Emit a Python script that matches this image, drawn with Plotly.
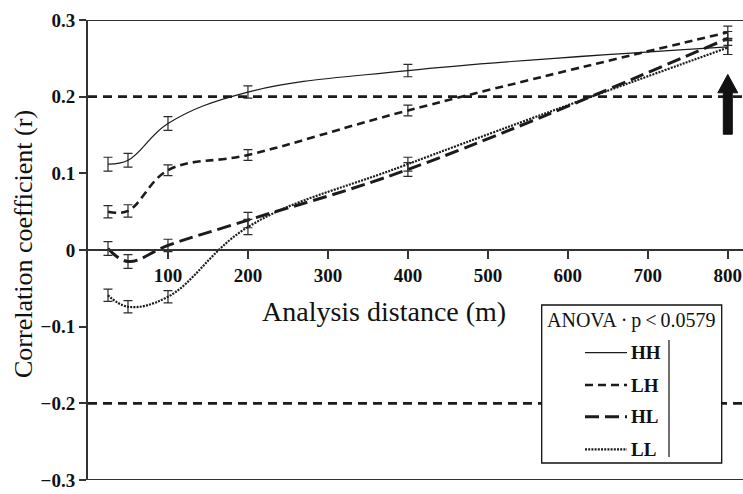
import plotly.graph_objects as go

# ---- data ----
distance = [25, 50, 100, 200, 400, 800]
HH = [0.112, 0.117, 0.165, 0.206, 0.234, 0.265]
LH = [0.050, 0.051, 0.104, 0.124, 0.182, 0.284]
HL = [0.002, -0.015, 0.006, 0.039, 0.105, 0.276]
LL = [-0.059, -0.074, -0.061, 0.030, 0.112, 0.264]
HH_err = [0.009, 0.009, 0.009, 0.008, 0.008, 0.010]
LH_err = [0.008, 0.008, 0.007, 0.007, 0.007, 0.008]
HL_err = [0.009, 0.009, 0.008, 0.010, 0.009, 0.009]
LL_err = [0.008, 0.008, 0.008, 0.010, 0.009, 0.009]
x_ticks = [100, 200, 300, 400, 500, 600, 700, 800]
y_ticks = [-0.3, -0.2, -0.1, 0, 0.1, 0.2, 0.3]
y_ticktext = ["\u22120.3", "\u22120.2", "\u22120.1", "0", "0.1", "0.2", "0.3"]
thresholds = [0.2, -0.2]
legend_title = "ANOVA\u2009\u00b7\u2009p\u2009<\u20090.0579"

W, H = 743, 494
L, R, T, B = 88, 0, 20, 14
XMAX = 819
FONT = "Liberation Serif, Times New Roman, serif"
INK = "#1b1b1b"

series = [
    ("HH", HH, HH_err, dict(width=1.2, dash="solid")),
    ("LH", LH, LH_err, dict(width=2.6, dash="8px,5px")),
    ("HL", HL, HL_err, dict(width=3.0, dash="14px,6px")),
    ("LL", LL, LL_err, dict(width=2.2, dash="2px,1.2px")),
]

fig = go.Figure()
for name, vals, err, ls in series:
    fig.add_trace(go.Scatter(
        x=distance, y=vals, name=name, mode="lines",
        line=dict(color=INK, shape="spline", smoothing=1.1, **ls),
        error_y=dict(type="data", array=err, visible=True, color="#2a2a2a",
                     thickness=1.2, width=4.5),
        showlegend=False,
    ))

def px(xp):
    return (xp - L) / (W - L - R)

def py(yp):
    return (H - B - yp) / (H - T - B)

shapes = []
# frame lines top / bottom
for yv in (0.3, -0.3):
    shapes.append(dict(type="line", xref="paper", yref="y", x0=0, x1=1, y0=yv, y1=yv,
                       line=dict(color="#333", width=2), layer="above"))
# threshold lines
for tv in thresholds:
    shapes.append(dict(type="line", xref="paper", yref="y", x0=0, x1=1, y0=tv, y1=tv,
                       line=dict(color=INK, width=2.6, dash="9px,6px"), layer="above"))
# arrow at last distance
ax = distance[-1]
sx = XMAX / (W - L - R)  # metres per pixel
tip = 0.229
head = 0.205
bottom = 0.151
path = (f"M {ax-4.5*sx} {bottom} L {ax+4.5*sx} {bottom} L {ax+4.5*sx} {head} "
        f"L {ax+10*sx} {head} L {ax} {tip} L {ax-10*sx} {head} L {ax-4.5*sx} {head} Z")
shapes.append(dict(type="path", xref="x", yref="y", path=path,
                   fillcolor="#111", line=dict(color="#111", width=1), layer="above"))
# legend box
shapes.append(dict(type="rect", xref="paper", yref="paper",
                   x0=px(541.7), x1=px(721.7), y0=py(463), y1=py(305),
                   fillcolor="white", line=dict(color="#111", width=1.3), layer="above"))
shapes.append(dict(type="line", xref="paper", yref="paper",
                   x0=px(669), x1=px(669), y0=py(457), y1=py(340),
                   line=dict(color="#111", width=1.2), layer="above"))

annotations = []
annotations.append(dict(text=legend_title, xref="paper", yref="paper",
                        x=px(631), y=py(320), showarrow=False, xanchor="center", yanchor="middle",
                        font=dict(family=FONT, size=20, color="#111")))
entry_y = [352.7, 385, 416.7, 449.3]
for (name, vals, err, ls), ey in zip(series, entry_y):
    shapes.append(dict(type="line", xref="paper", yref="paper",
                       x0=px(585), x1=px(627), y0=py(ey), y1=py(ey),
                       line=dict(color=INK, width=ls["width"], dash=ls["dash"]), layer="above"))
    annotations.append(dict(text=f"<b>{name}</b>", xref="paper", yref="paper",
                            x=px(629), y=py(ey), showarrow=False, xanchor="left", yanchor="middle",
                            font=dict(family=FONT, size=19, color="#111")))

annotations.append(dict(text="Analysis distance (m)", xref="paper", yref="paper",
                        x=px(384), y=py(311), showarrow=False, xanchor="center", yanchor="middle",
                        font=dict(family=FONT, size=28, color="#111")))
annotations.append(dict(text="Correlation coefficient (r)", xref="paper", yref="paper",
                        x=px(24), y=py(244), showarrow=False, xanchor="center", yanchor="middle",
                        textangle=-90, font=dict(family=FONT, size=26, color="#111")))

fig.update_layout(
    width=W, height=H,
    margin=dict(l=L, r=R, t=T, b=B, pad=0),
    paper_bgcolor="white", plot_bgcolor="white",
    showlegend=False,
    shapes=shapes, annotations=annotations,
    xaxis=dict(range=[0, XMAX], anchor="free", position=0.5,
               tickvals=x_ticks, ticks="outside", ticklen=8, tickwidth=1.5, tickcolor="#333",
               showline=True, linecolor="#333", linewidth=2, showgrid=False, zeroline=False,
               tickfont=dict(family=FONT, size=19, color="#111", weight="bold")),
    yaxis=dict(range=[-0.3, 0.3], tickvals=y_ticks, ticktext=y_ticktext,
               ticks="outside", ticklen=7, tickwidth=1.5, tickcolor="#333",
               showline=True, linecolor="#333", linewidth=2, showgrid=False, zeroline=False,
               tickfont=dict(family=FONT, size=19, color="#111", weight="bold")),
)

fig.write_html("out.html")
